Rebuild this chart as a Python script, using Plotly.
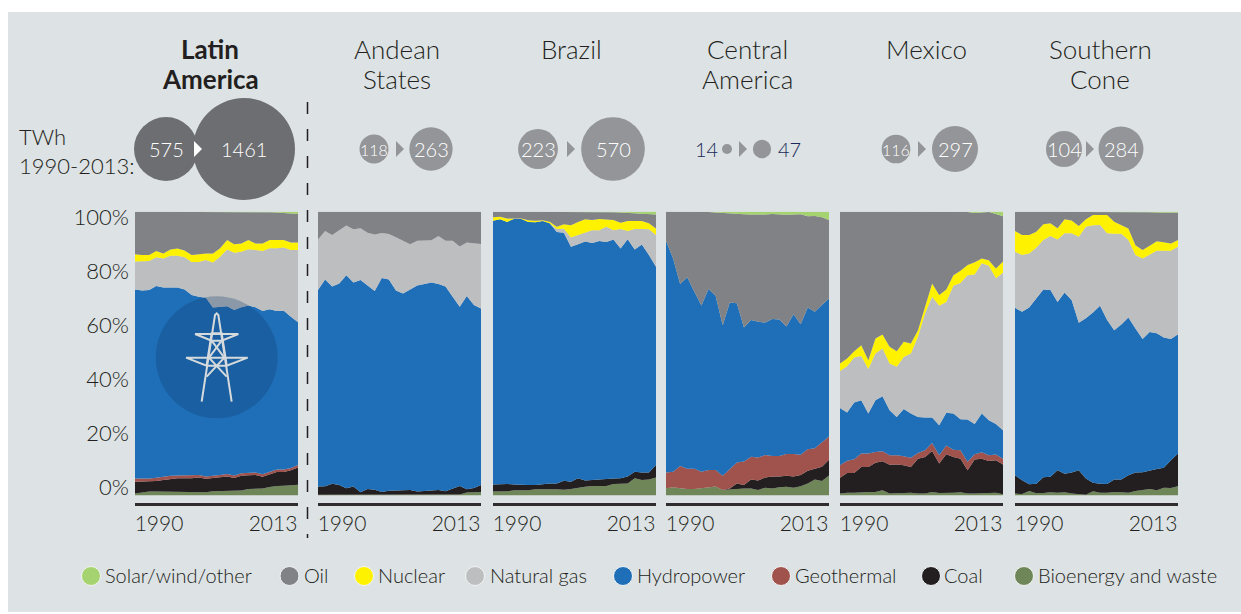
import plotly.graph_objects as go

years = list(range(1990, 2014))

# Upper edge of each stacked band, in percent of generation
la_bio = [0.6,1.0,1.3,1.3,1.3,1.3,1.2,1.2,1.2,1.1,1.1,1.4,1.5,1.7,1.7,1.7,2.2,2.3,2.4,2.9,3.3,3.4,3.5,3.7]
la_coal = [4.8,4.8,4.8,5.0,5.4,5.7,6.0,6.0,6.0,6.3,5.8,6.1,6.3,6.6,6.1,6.9,7.1,7.2,6.5,7.4,8.2,8.2,8.8,9.8]
la_geo = [5.9,5.9,5.9,6.2,6.6,6.9,7.0,7.0,7.0,7.2,6.6,7.0,7.2,7.5,7.0,7.8,7.9,8.0,7.4,8.2,9.1,9.1,9.6,10.7]
la_hydro = [72.6,72.2,72.4,73.8,73.3,73.3,73.3,72.6,70.6,70,69.7,66.2,66.5,66.7,65.3,66.3,66.9,66.3,65,65.6,65,65.1,63,61]
la_gas = [82.4,82.6,82.6,83.9,83.5,84.5,84.5,83.9,82.3,82.3,83,82.1,84.1,86.7,85.5,85.9,86.8,86.5,86.1,87.1,87.1,87.4,86.5,86.5]
la_nuclear = [85,84.7,84.7,86.1,85.3,86.7,87,86.3,84.7,85,85.3,85.3,87.1,90,88.5,88.8,90,88.8,88.8,90,90,90,89.1,89.1]
la_oil = [100,100,100,100,100,100,100,100,100,100,100,100,100,100,100,100,99.9,99.9,99.8,99.8,99.7,99.6,99.4,99.2]
la_solar = [100]*24

an_bio = [0.2,0.2,0.2,0.2,0.2,0.2,0.2,0.2,0.2,0.2,0.2,0.2,0.2,0.2,0.2,0.2,0.3,0.3,0.3,0.3,0.3,1.0,1.0,1.2]
an_coal = [3.1,3.2,4.1,3.6,2.5,3.1,1.1,2.2,2,1.2,1.6,1.6,1.8,1.9,1.3,1.5,1.8,1.9,1.4,2.4,3.3,2.1,2.6,3.6]
an_geo = [3.1,3.2,4.1,3.6,2.5,3.1,1.1,2.2,2,1.2,1.6,1.6,1.8,1.9,1.3,1.5,1.8,1.9,1.4,2.4,3.3,2.1,2.6,3.6]
an_hydro = [72.4,76.1,73.6,74.7,77.6,75,75.9,73.8,72,76.6,76.1,72.2,71.2,72.6,74,74.5,75,74.5,73.6,70,66.5,70.3,67.1,65.9]
an_gas = [90.2,93.2,91.8,93.3,95.1,93.8,94.2,92.6,92,92.5,92.1,91,89.7,88.5,89.8,89.8,89.9,91.4,89.8,89.8,87.7,89.1,88.8,88.6]
an_nuclear = [90.2,93.2,91.8,93.3,95.1,93.8,94.2,92.6,92,92.5,92.1,91,89.7,88.5,89.8,89.8,89.9,91.4,89.8,89.8,87.7,89.1,88.8,88.6]
an_oil = [100]*24
an_solar = [100]*24

br_bio = [1.3,1.3,1.4,1.8,1.8,1.8,2.1,2.2,2.1,2.1,2,2.2,2.7,3,3.3,3.3,3.3,4,4,4.2,6,5.4,5.6,6.3]
br_coal = [3.8,4,4,3.8,3.6,3.6,3.6,4,4.2,4.2,5.1,4.8,6,5.2,5.4,5.6,5.9,5.9,6,6.6,8.3,8,8,10.7]
br_geo = [3.8,4,4,3.8,3.6,3.6,3.6,4,4.2,4.2,5.1,4.8,6,5.2,5.4,5.6,5.9,5.9,6,6.6,8.3,8,8,10.7]
br_hydro = [96.8,97.3,96.4,97.5,97.4,96.4,96.3,96.7,95.9,92.8,92.6,87.6,88.5,89.5,89,89.7,89.3,90.2,87,90.3,86.7,88.4,84.7,80.6]
br_gas = [96.8,97.3,96.4,97.5,97.4,96.4,96.3,96.7,95.9,93.9,94,90.9,91.8,92.6,93.5,93.5,94.7,93.5,93.9,93.2,93.9,93.9,93.8,91.8]
br_nuclear = [98,98.2,97.6,97.6,97.6,97,96.8,97,96.5,94.7,95.6,95.2,96.4,97.3,97.1,97.4,97.3,97.1,96.1,96.7,96.7,96.7,95.9,94.1]
br_oil = [100,100,100,100,100,100,100,100,100,100,100,100,100,100,100,100,99.9,99.8,99.7,99.6,99.5,99.4,99.2,99]
br_solar = [100]*24

ca_bio = [2.5,2.8,2.5,2.2,2.2,2.5,2.6,3.1,1.9,2.1,2.4,2.4,2.4,1.9,2.7,2.4,2.8,3,2.7,3.2,4.2,5.6,5,7]
ca_coal = [2.5,2.8,2.5,2.2,2.2,2.5,2.6,3.1,1.9,2.4,4.2,3.6,5.6,5.2,6.3,6.6,6.6,6.9,6.6,7.2,8.7,9.5,10.1,12.5]
ca_geo = [8,8.3,10.3,9.4,9.4,8.3,8.9,8.9,6.9,9.2,11.6,11.9,13.6,13.3,14.2,13.9,13.9,14.6,14.6,14.3,16.2,16.6,18.7,20.7]
ca_hydro = [89.8,83.5,74.5,76.9,71.8,66.9,72.7,70.4,60,68,67.7,59.2,61.8,61.2,60.9,62.2,62,59.5,63.8,60.3,66.2,64.7,67.1,69.4]
ca_gas = [89.8,83.5,74.5,76.9,71.8,66.9,72.7,70.4,60,68,67.7,59.2,61.8,61.2,60.9,62.2,62,59.5,63.8,60.3,66.2,64.7,67.1,69.4]
ca_nuclear = [89.8,83.5,74.5,76.9,71.8,66.9,72.7,70.4,60,68,67.7,59.2,61.8,61.2,60.9,62.2,62,59.5,63.8,60.3,66.2,64.7,67.1,69.4]
ca_oil = [100,100,100,100,100,100,99.9,99.7,99.5,99.4,99.2,99.1,99,98.9,99,99.2,99,98.9,99,99.1,98.4,98.5,98,97.1]
ca_solar = [100]*24

mx_bio = [.6,.9,.9,1.1,1.2,1.2,1.8,.6,.6,.8,.9,.6,.6,1.2,.8,.8,.9,1.1,.6,.6,.7,.6,.9,.4]
mx_coal = [6.2,7.9,7.9,10,10,11.5,12,10.8,10.9,10.6,10,12.9,13.5,15.6,11.2,14.5,13.5,12.9,8.8,12.6,12.9,12.1,12.4,10.9]
mx_geo = [10.6,12.2,12.7,14.7,14.7,15.3,15.5,14.1,14.1,13.8,13.2,14.9,15.9,18.4,14.1,17.6,16.1,15.9,11.8,14.5,15.2,14.1,14.4,12.9]
mx_hydro = [30.8,29.2,32.7,33.5,28.8,33.5,34.9,30,27.6,30.4,28.8,27.6,27.4,27.4,24.7,29.1,28.8,26.8,26.7,25.1,28.8,26.5,25.1,22.9]
mx_gas = [43.8,45.5,48.6,49.1,44.5,50,51.8,46.5,45.3,48.8,50,55.9,64.1,70,66.8,68.2,73.9,74.9,77.6,77.9,81.8,80.9,76.5,78.5]
mx_nuclear = [46.5,48.2,50.8,52.9,47.6,55.3,56.7,52.4,50.8,54.1,53.5,58.2,66.5,74.7,70.6,72.6,77.6,79.2,81.2,82.2,83.5,82.9,80,82.4]
mx_oil = [100,100,100,100,100,100,100,100,100,100,100,100,100,100,100,100,100,100,99.9,99.5,99.6,99.9,99.2,98.4]
mx_solar = [100]*24

sc_bio = [.6,.5,1.5,.7,.8,1.1,.9,1.1,.6,.5,.2,1.4,.9,.9,1.2,1.1,.9,1.5,1.8,2.2,1.8,2.7,2.6,3.2]
sc_coal = [7.1,5.3,3.9,4.1,6.4,6.5,8.8,7.6,8,8.8,5.9,4.4,4.1,4,5.6,5.6,7.1,8,8.1,8.8,9.3,9.7,12.4,14.7]
sc_geo = [7.1,5.3,3.9,4.1,6.4,6.5,8.8,7.6,8,8.8,5.9,4.4,4.1,4,5.6,5.6,7.1,8,8.1,8.8,9.3,9.7,12.4,14.7]
sc_hydro = [66.1,64.7,66.2,69.2,72.6,72.4,68.2,71.5,68.8,60.8,62.4,64.5,66.8,61.8,58.2,60.2,62.7,58.8,55.1,57.6,57.1,55.6,55.1,56.8]
sc_gas = [85.9,84.7,85.3,87.3,90,91.4,90.2,92.4,92.4,91.2,94.7,95.2,95.3,92.4,92.2,92.2,90,84.7,83.5,84.9,86.2,86.2,86.2,87.6]
sc_nuclear = [93.2,91.8,91.8,92.9,95.6,95.9,94.2,97.3,96.9,95,97.3,98.8,98.8,98.8,96.5,95.3,94.1,88.2,86.5,88,89.6,89.2,88.8,90]
sc_oil = [100,100,100,100,100,100,100,100,100,100,100,100,100,100,100,100,100,100,100,99.8,99.7,99.6,99.6,99.6]
sc_solar = [100]*24

region_titles = [["Latin", "America"], ["Andean", "States"], ["Brazil"], ["Central", "America"], ["Mexico"], ["Southern", "Cone"]]
sources = ["Bioenergy and waste", "Coal", "Geothermal", "Hydropower", "Natural gas", "Nuclear", "Oil", "Solar/wind/other"]
legend_order = ["Solar/wind/other", "Oil", "Nuclear", "Natural gas", "Hydropower", "Geothermal", "Coal", "Bioenergy and waste"]
y_tick_labels = ["100%", "80%", "60%", "40%", "20%", "0%"]
x_tick_labels = ["1990", "2013"]
twh_1990 = [575, 118, 223, 14, 116, 104]
twh_2013 = [1461, 263, 570, 47, 297, 284]

# ---- styling / layout ----
W, H = 1241, 614
FONT = "Lato Light, Lato"
BOLD = "Lato"
INK = "#231f20"
colors = {"Solar/wind/other": "#a5d36f", "Oil": "#808285", "Nuclear": "#fff200", "Natural gas": "#bcbec0",
          "Hydropower": "#1f6fb8", "Geothermal": "#a0524c", "Coal": "#231f20", "Bioenergy and waste": "#6f8659"}
panels = [
    (135, 298, [la_bio, la_coal, la_geo, la_hydro, la_gas, la_nuclear, la_oil, la_solar]),
    (318, 481, [an_bio, an_coal, an_geo, an_hydro, an_gas, an_nuclear, an_oil, an_solar]),
    (493, 656, [br_bio, br_coal, br_geo, br_hydro, br_gas, br_nuclear, br_oil, br_solar]),
    (666, 829, [ca_bio, ca_coal, ca_geo, ca_hydro, ca_gas, ca_nuclear, ca_oil, ca_solar]),
    (840, 1003, [mx_bio, mx_coal, mx_geo, mx_hydro, mx_gas, mx_nuclear, mx_oil, mx_solar]),
    (1015, 1178, [sc_bio, sc_coal, sc_geo, sc_hydro, sc_gas, sc_nuclear, sc_oil, sc_solar]),
]
Y100, Y0, YAXIS = 211.7, 495.3, 503.0
px_per_pct = (Y0 - Y100) / 100

def px(x): return x / W
def py(y): return 1 - y / H
def pct_at(y): return (Y0 - y) / px_per_pct
def yr_at(panel_left, x): return 1990 + 23 * (x - panel_left) / 163

fig = go.Figure()
layout = {}
for i, (x0, x1, edges) in enumerate(panels):
    n = "" if i == 0 else str(i + 1)
    for j, (src, edge) in enumerate(zip(sources, edges)):
        assert len(edge) == 24, (i, j, len(edge))
        fig.add_trace(go.Scatter(x=years, y=edge, name=src, xaxis="x" + n, yaxis="y" + n, mode="lines",
                                 line=dict(width=0), fill="tozeroy" if j == 0 else "tonexty",
                                 fillcolor=colors[src], showlegend=False, hoverinfo="x+y+name"))
    layout["xaxis" + n] = dict(domain=[px(x0), px(x1)], range=[1990, 2013], anchor="y" + n, automargin=False,
                               tickmode="array", tickvals=[yr_at(x0, x0 + 24), yr_at(x0, x0 + 138)],
                               ticktext=x_tick_labels, ticks="", showgrid=False, zeroline=False,
                               showline=True, linecolor="#2f2d2e", linewidth=3,
                               tickfont=dict(family=FONT, size=21, color=INK))
    layout["yaxis" + n] = dict(domain=[py(YAXIS), py(Y100)], range=[-(YAXIS - Y0) / px_per_pct, 100],
                               anchor="x" + n, showgrid=False, zeroline=False, ticks="", showline=False,
                               tickmode="array", ticklabelstandoff=5, automargin=False,
                               tickvals=[pct_at(y) for y in (217, 271, 325, 379, 433, 487)] if i == 0 else [],
                               ticktext=y_tick_labels if i == 0 else [],
                               tickfont=dict(family=FONT, size=22, color=INK))

# overlay axis in page pixels for bubbles and the legend
layout["xaxis7"] = dict(domain=[0, 1], range=[0, W], visible=False, anchor="y7", automargin=False)
layout["yaxis7"] = dict(domain=[0, 1], range=[H, 0], visible=False, anchor="x7", automargin=False)

start_x = [166, 374, 538, 727, 896, 1064]
end_x = [244, 431, 613, 762, 955, 1121]
BUBBLE_K = 1.334
drawn_area = lambda v: 182 if v == 104 else v  # the 104 disc is drawn larger in the source
for i in range(6):
    c = "#6d6e71" if i == 0 else "#939598"
    fig.add_trace(go.Scatter(x=[start_x[i], end_x[i]], y=[149, 149], xaxis="x7", yaxis="y7", mode="markers",
                             marker=dict(color=c, opacity=1,
                                         size=[2 * BUBBLE_K * drawn_area(v) ** .5 for v in (twh_1990[i], twh_2013[i])],
                                         line=dict(width=0)), showlegend=False, hoverinfo="skip"))

annotations = []
shapes = [dict(type="rect", xref="paper", yref="paper", x0=px(8), x1=1, y0=py(612), y1=py(12),
               fillcolor="#dde2e4", line=dict(width=0), layer="below")]

title_x = [210, 397, 571, 747, 926, 1100]
for i, (x, lines) in enumerate(zip(title_x, region_titles)):
    for k, t in enumerate(lines):
        annotations.append(dict(x=px(x), y=py(49 + 30 * k), xref="paper", yref="paper",
                                text=f"<b>{t}</b>" if i == 0 else t, showarrow=False,
                                xanchor="center", yanchor="middle",
                                font=dict(family=BOLD if i == 0 else FONT, size=26, color=INK)))
for y, t in ((136, "TWh"), (165, "1990-2013:")):
    annotations.append(dict(x=px(17), y=py(y), xref="paper", yref="paper", text=t, showarrow=False,
                            xanchor="left", yanchor="middle", font=dict(family=FONT, size=22, color=INK)))

for i in range(6):
    if i == 3:
        for xx, v in ((706, twh_1990[i]), (789, twh_2013[i])):
            annotations.append(dict(x=px(xx), y=py(149), xref="paper", yref="paper", text=str(v), showarrow=False,
                                    xanchor="center", yanchor="middle", font=dict(family=FONT, size=20, color="#1b2a5a")))
    else:
        for xx, v in ((start_x[i], twh_1990[i]), (end_x[i], twh_2013[i])):
            size = 16 if v in (118, 116) else 20
            annotations.append(dict(x=px(xx), y=py(149), xref="paper", yref="paper", text=str(v), showarrow=False,
                                    xanchor="center", yanchor="middle", font=dict(family=FONT, size=size, color="white")))

# small arrows between the discs
for i, xa in enumerate([194, 396, 567, 739, 918, 1086]):
    c = "white" if i == 0 else "#939598"
    xb = xa + 8
    ym = 149
    a, b, cc = (px(xa), py(ym - 8)), (px(xb), py(ym)), (px(xa), py(ym + 8))
    shapes.append(dict(type="path", xref="paper", yref="paper", layer="above",
                       path=f"M{a[0]},{a[1]} L{b[0]},{b[1]} L{cc[0]},{cc[1]} Z", fillcolor=c, line=dict(width=0)))

# dashed divider
shapes.append(dict(type="line", xref="paper", yref="paper", x0=px(307.5), x1=px(307.5), y0=py(102), y1=py(538),
                   line=dict(color=INK, width=1.5, dash="12px,15px"), layer="above"))

# disc and pylon icon
cx, cy, r = 216.7, 357.3, 61
shapes.append(dict(type="circle", xref="paper", yref="paper", layer="above", x0=px(cx - r), x1=px(cx + r),
                   y0=py(cy + r), y1=py(cy - r), fillcolor="rgba(15,55,105,0.28)", line=dict(width=0)))
pylon = [
    [(305, 605), (345, 345), (350, 340), (355, 345), (395, 605)],
    [(320, 495), (335, 400), (365, 400), (380, 495)],
    [(285, 402), (415, 402), (365, 422), (335, 422), (285, 402)],
    [(258, 473), (443, 473), (380, 497), (320, 497), (258, 473)],
    [(335, 422), (373, 473), (320, 530)],
    [(365, 422), (327, 473), (380, 530)],
]
for seg in pylon:
    pts = [(100 + a / 3, 200 + b / 3) for a, b in seg]
    d = "M" + " L".join(f"{px(a)},{py(b)}" for a, b in pts)
    shapes.append(dict(type="path", xref="paper", yref="paper", layer="above", path=d,
                       line=dict(color="#d5dadd", width=2)))

# legend built as markers and text on the overlay axis
legend_marker_x = [91, 289.5, 364, 475, 623, 781, 931, 1024]
legend_text_x = [105, 304, 378, 490, 637, 795, 944, 1038]
for name, x, xt in zip(legend_order, legend_marker_x, legend_text_x):
    fig.add_trace(go.Scatter(x=[x], y=[576], xaxis="x7", yaxis="y7", mode="markers",
                             marker=dict(color=colors[name], opacity=1, size=19, line=dict(color="#f2f4f4", width=1)),
                             showlegend=False, hoverinfo="skip", cliponaxis=False))
    fig.add_trace(go.Scatter(x=[xt], y=[577.5], xaxis="x7", yaxis="y7", mode="text", text=[name],
                             textposition="middle right", textfont=dict(family=FONT, size=20, color=INK),
                             showlegend=False, hoverinfo="skip", cliponaxis=False))

fig.update_layout(width=W, height=H, margin=dict(l=0, r=0, t=0, b=0), paper_bgcolor="white",
                  plot_bgcolor="rgba(0,0,0,0)", showlegend=False, shapes=shapes, annotations=annotations,
                  font=dict(family=FONT, color=INK), **layout)
fig.write_html("out.html", config={"displayModeBar": False}, post_script="document.body.style.margin='0';")
